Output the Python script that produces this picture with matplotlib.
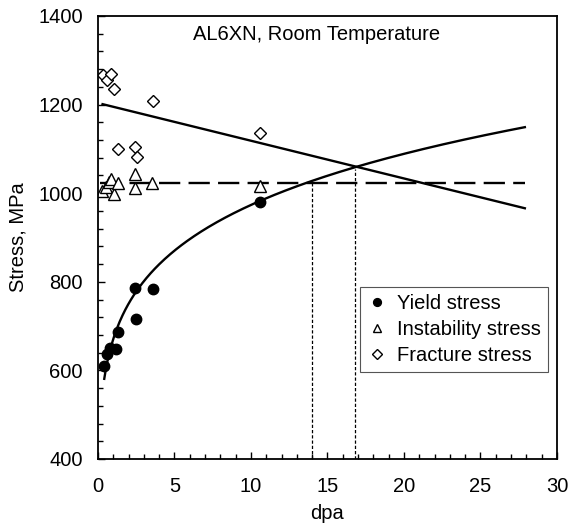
import numpy as np
import matplotlib.pyplot as plt

plt.rcParams['font.family'] = ['Liberation Sans', 'DejaVu Sans']

# yield stress (filled circles)
yield_dpa = [0.41, 0.61, 0.80, 1.16, 1.31, 2.40, 2.50, 3.61, 10.6]
yield_mpa = [611, 636, 651, 648, 686, 787, 716, 783, 981]

# instability stress (open triangles)
inst_dpa = [0.24, 0.50, 0.70, 0.85, 1.05, 1.29, 2.42, 2.42, 3.55, 10.6]
inst_mpa = [1006, 1015, 1026, 1032, 998, 1024, 1043, 1012, 1024, 1016]

# fracture stress (open diamonds)
frac_dpa = [0.30, 0.57, 0.83, 1.07, 1.33, 2.42, 2.53, 3.62, 10.6]
frac_mpa = [1267, 1256, 1269, 1235, 1100, 1105, 1081, 1209, 1137]

# fitted trend lines
yield_fit_A, yield_fit_n = 671, 0.1616      # sigma = A * dpa^n
yield_fit_range = [0.41, 27.9]
frac_fit_dpa = [0.3, 27.9]
frac_fit_mpa = [1201, 966]
inst_fit_dpa = [0.15, 27.9]
inst_fit_mpa = [1022, 1022]

# crossing points marked by dotted drop lines
cross_dpa = [14.0, 16.8]
cross_mpa = [1022, 1055]

fs = 14.5

fig = plt.figure(figsize=(5.68, 5.28), dpi=100)
ax = fig.add_axes([0.1725, 0.1307, 0.8081, 0.839])

xf = np.linspace(yield_fit_range[0], yield_fit_range[1], 300)
ax.plot(xf, yield_fit_A * xf ** yield_fit_n, color='black', lw=1.7)
ax.plot(frac_fit_dpa, frac_fit_mpa, color='black', lw=1.7)
ax.plot(inst_fit_dpa, inst_fit_mpa, color='black', lw=1.7, dashes=(9, 3.5))
for xc, yc in zip(cross_dpa, cross_mpa):
    ax.plot([xc, xc], [400, yc], color='black', lw=0.9, dashes=(2.6, 1.6))

ax.plot(yield_dpa, yield_mpa, 'o', color='black', ms=7.5, ls='none',
        label='Yield stress')
ax.plot(inst_dpa, inst_mpa, '^', mfc='white', mec='black', mew=1.0, ms=8,
        ls='none', label='Instability stress')
ax.plot(frac_dpa, frac_mpa, 'D', mfc='white', mec='black', mew=1.0, ms=6.5,
        ls='none', label='Fracture stress')

ax.set_xlim(0, 30)
ax.set_ylim(400, 1400)
ax.set_xticks(np.arange(0, 31, 5))
ax.set_xticks(np.arange(0, 31, 1), minor=True)
ax.set_yticks(np.arange(400, 1401, 200))
ax.set_yticks(np.arange(400, 1401, 40), minor=True)
ax.tick_params(which='both', direction='in', labelsize=fs, width=1.0)
ax.tick_params(which='major', length=5)
ax.tick_params(axis='x', which='major', pad=13)
ax.tick_params(axis='y', which='major', pad=11)
ax.tick_params(which='minor', length=3.5)
for s in ax.spines.values():
    s.set_linewidth(1.3)

ax.set_xlabel('dpa', fontsize=fs, va='center')
ax.set_ylabel('Stress, MPa', fontsize=fs, va='center')
ax.xaxis.set_label_coords(0.5, -0.122)
ax.yaxis.set_label_coords(-0.174, 0.5)

ax.text(0.206, 0.959, 'AL6XN, Room Temperature', transform=ax.transAxes,
        ha='left', va='center', fontsize=fs)

leg = ax.legend(loc='upper left', bbox_to_anchor=(0.571, 0.389),
                borderaxespad=0, fontsize=fs, markerscale=0.75,
                handlelength=1.0, handletextpad=0.5, labelspacing=0.35,
                borderpad=0.35, fancybox=False, framealpha=1)
leg.get_frame().set_edgecolor('#555555')
leg.get_frame().set_linewidth(0.8)

fig.savefig('out.png', dpi=100)
